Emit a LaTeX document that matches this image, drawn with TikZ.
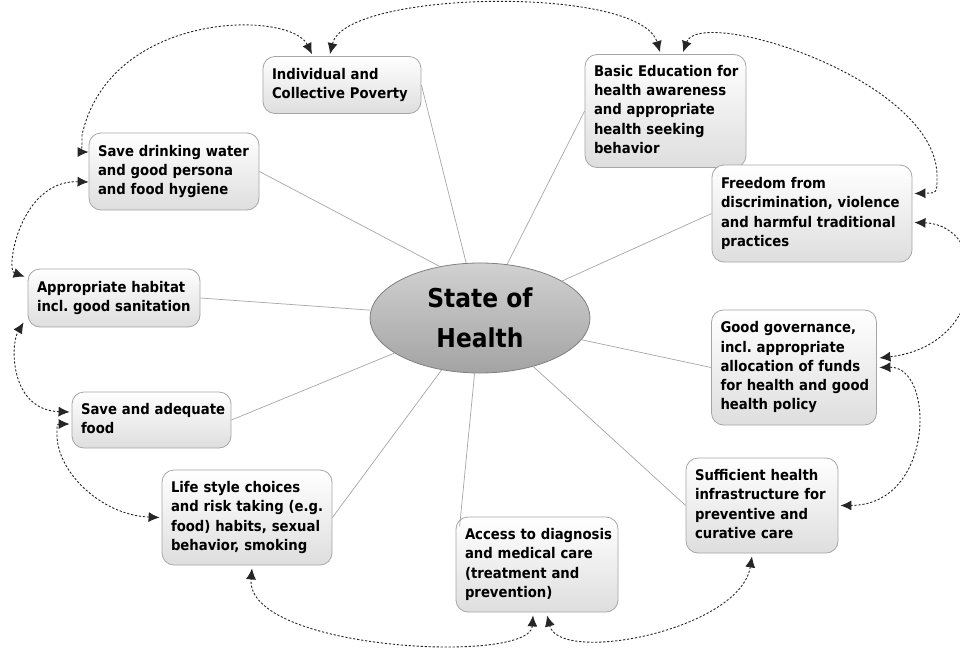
\documentclass[tikz,border=0pt]{standalone}
\usepackage{fontspec}
\setmainfont{DejaVu Sans Condensed}
\usetikzlibrary{arrows.meta,shapes.geometric}

% unbreakable left-aligned block of lines
\newcommand{\boxlines}[1]{\begin{tabular}{@{}l@{}}#1\end{tabular}}

\tikzset{
  factor/.style={draw=black!35, line width=0.8pt, rounded corners=12pt,
    top color=white, bottom color=black!13, align=left,
    inner xsep=9pt, inner ysep=0pt,
    font=\bfseries\fontsize{14.7}{19.3}\selectfont},
  hub/.style={ellipse, draw=black!50, line width=0.8pt,
    top color=black!18, bottom color=black!36,
    minimum width=220pt, minimum height=110pt, inner sep=0pt, align=center,
    font=\bfseries\fontsize{26}{40}\selectfont},
  spoke/.style={draw=black!35, line width=0.7pt},
  link/.style={draw=black!85, line width=0.9pt, dash pattern=on 2.2pt off 1.8pt,
    {Latex[length=11pt,width=10pt]}-{Latex[length=11pt,width=10pt]}}
}

\begin{document}
\frenchspacing
\begin{tikzpicture}[x=1pt,y=-1pt]
\useasboundingbox[fill=white] (0,0) rectangle (960,651);

% central topic
\node[hub] (c) at (480,318) {State of\\Health};

% surrounding determinants
\node[factor, text width=140pt, minimum height=57pt] (pov) at (342,85)
  {\boxlines{Individual and\\Collective Poverty}};
\node[factor, text width=143pt, minimum height=113pt] (edu) at (665.5,111)
  {\boxlines{Basic Education for\\health awareness\\and appropriate\\health seeking\\behavior}};
\node[factor, text width=182pt, minimum height=97pt] (free) at (812,213.5)
  {\boxlines{Freedom from\\discrimination, violence\\and harmful traditional\\practices}};
\node[factor, text width=147pt, minimum height=115pt] (gov) at (794,367.5)
  {\boxlines{Good governance,\\incl. appropriate\\allocation of funds\\for health and good\\health policy}};
\node[factor, text width=134pt, minimum height=95pt] (suff) at (762,505.5)
  {\boxlines{Sufficient health\\infrastructure for\\preventive and\\curative care}};
\node[factor, text width=144pt, minimum height=95pt] (acc) at (537,564.5)
  {\boxlines{Access to diagnosis\\and medical care\\(treatment and\\prevention)}};
\node[factor, text width=152pt, minimum height=95pt] (life) at (247,517.5)
  {\boxlines{Life style choices\\and risk taking (e.g.\\food) habits, sexual\\behavior, smoking}};
\node[factor, text width=141pt, minimum height=56pt] (food) at (151.5,420)
  {\boxlines{Save and adequate\\food}};
\node[factor, text width=154pt, minimum height=58pt] (hab) at (114,298)
  {\boxlines{Appropriate habitat\\incl. good sanitation}};
\node[factor, text width=152pt, minimum height=77pt] (wat) at (174,171.5)
  {\boxlines{Save drinking water\\and good persona\\and food hygiene}};

% spokes from the hub
\draw[spoke] (pov.east) -- (c);
\draw[spoke] (edu.west) -- (c);
\draw[spoke] (free.west) -- (c);
\draw[spoke] (gov.west) -- (c);
\draw[spoke] (suff.west) -- (c);
\draw[spoke] ([shift={(4,10)}]acc.north west) -- (c);
\draw[spoke] (life.east) -- (c);
\draw[spoke] (food.east) -- (c);
\draw[spoke] (hab.east) -- (c);
\draw[spoke] (wat.east) -- (c.128);

% arrow tip positions on the boxes
\coordinate (pov-l) at ([shift={(-30,-2)}]pov.north);
\coordinate (pov-r) at ([shift={(-12,-2)}]pov.north);
\coordinate (edu-l) at ([shift={(-5.5,-2)}]edu.north);
\coordinate (edu-r) at ([shift={(17.5,-2)}]edu.north);
\coordinate (free-u) at ([shift={(2,-20)}]free.east);
\coordinate (free-d) at ([shift={(2,9)}]free.east);
\coordinate (gov-u) at ([shift={(2.5,-9.5)}]gov.east);
\coordinate (gov-d) at ([shift={(2.5,0)}]gov.east);
\coordinate (suff-e) at ([shift={(2,0)}]suff.east);
\coordinate (suff-s) at ([shift={(-10,3)}]suff.south);
\coordinate (acc-l) at ([shift={(-4,3)}]acc.south);
\coordinate (acc-r) at ([shift={(10,3)}]acc.south);
\coordinate (life-s) at ([shift={(5,3)}]life.south);
\coordinate (life-w) at ([shift={(-2,0)}]life.west);
\coordinate (food-u) at ([shift={(-2,-8)}]food.west);
\coordinate (food-d) at ([shift={(-2,4)}]food.west);
\coordinate (hab-s) at ([shift={(-4,-5)}]hab.south west);
\coordinate (hab-n) at ([shift={(-3,8)}]hab.north west);
\coordinate (wat-u) at ([shift={(0,-19.5)}]wat.west);
\coordinate (wat-d) at ([shift={(0,10.5)}]wat.west);

% dotted links between neighbouring determinants
\draw[link] (pov-r) .. controls (345,-10) and (640,-15) .. (edu-l);
\draw[link] (pov-l) .. controls (290,10) and (110,10) .. (82,135)
  .. controls (82,152) .. (wat-u);
\draw[link] (edu-r) .. controls (700,5) and (940,80) .. (937,178)
  .. controls (937,193) .. (free-u);
\draw[link] (free-d) .. controls (990,225) and (990,345) .. (gov-u);
\draw[link] (gov-d) .. controls (935,366) and (935,505) .. (suff-e);
\draw[link] (suff-s) .. controls (740,630) and (560,665) .. (acc-r);
\draw[link] (acc-l) .. controls (530,665) and (245,650) .. (life-s);
\draw[link] (life-w) .. controls (100,515) and (55,470) .. (57,432)
  .. controls (57,424) .. (food-d);
\draw[link] (food-u) .. controls (10,410) and (10,345) .. (hab-s);
\draw[link] (hab-n) .. controls (5,270) and (20,180) .. (wat-d);
\end{tikzpicture}
\end{document}
